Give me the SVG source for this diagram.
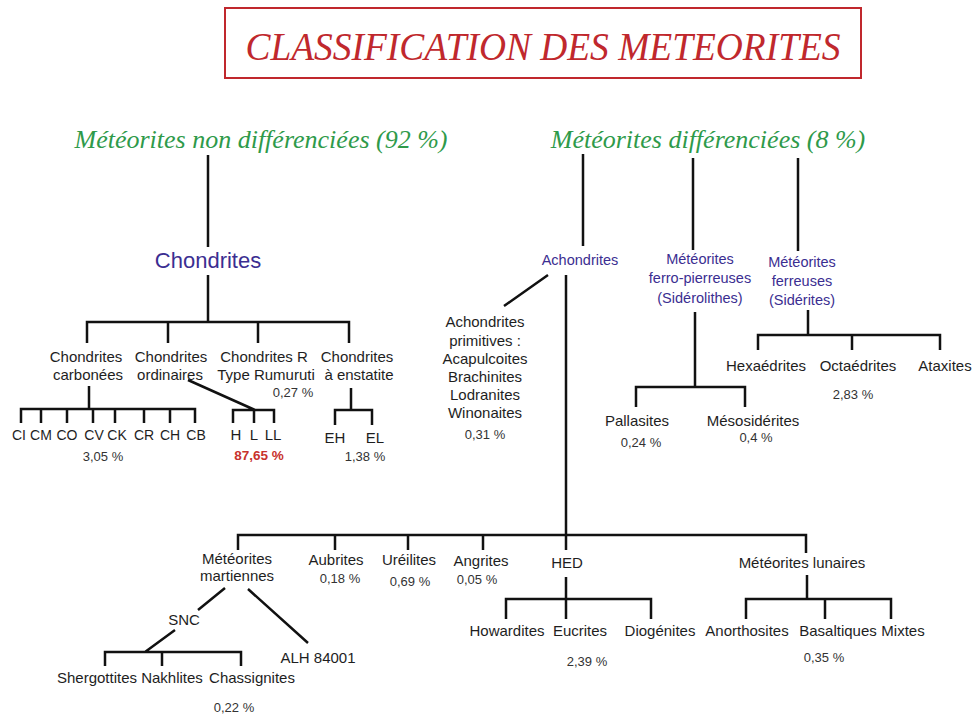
<svg xmlns="http://www.w3.org/2000/svg" width="973" height="716" viewBox="0 0 973 716">
<style>
.lbl{font-family:"Liberation Sans",Arial,sans-serif;font-size:15px;fill:#1e1e1e;text-anchor:middle}
.sm{font-size:14px}
.pct{font-family:"Liberation Sans",Arial,sans-serif;font-size:13px;fill:#333;text-anchor:middle}
.red{font-family:"Liberation Sans",Arial,sans-serif;font-size:13.5px;font-weight:bold;fill:#c8322c;text-anchor:middle}
.blue{font-family:"Liberation Sans",Arial,sans-serif;font-size:14.5px;fill:#3b2e91;text-anchor:middle}
.big{font-family:"Liberation Sans",Arial,sans-serif;font-size:22px;fill:#3b2e91;text-anchor:middle}
.green{font-family:"Liberation Serif","Times New Roman",serif;font-style:italic;font-size:26px;fill:#2e9a4a;text-anchor:middle}
.title{font-family:"Liberation Serif","Times New Roman",serif;font-style:italic;font-size:40px;fill:#c0282d;text-anchor:middle}
.ln{fill:none;stroke:#111;stroke-width:2.5;stroke-linejoin:miter}
</style>
<rect width="973" height="716" fill="#fff"/>
<g id="title">
<rect x="225" y="8" width="636" height="70" fill="none" stroke="#c0282d" stroke-width="2"/>
<text class="title" x="543" y="60" textLength="595" lengthAdjust="spacingAndGlyphs">CLASSIFICATION  DES  METEORITES</text>
</g>
<g id="connectors" class="ln">
<path class="ln" d="M208,155V247M208,275V322M87,343V322H349V343M168,322V343M258,322V343"/>
<path class="ln" d="M89,386V409M21,423V409H195V423M41,409V423M67,409V423M93,409V423M115,409V423M144,409V423M170,409V423"/>
<path class="ln" d="M188,380L255,410M233,423V410H274V423M254,410V423"/>
<path class="ln" d="M351,388V410M335,425V410H372V425"/>
<path class="ln" d="M583,154V246M693,158V250M798,158V251"/>
<path class="ln" d="M548,275L504,306M566,275V550"/>
<path class="ln" d="M695,312V387M636,407V387H745V407"/>
<path class="ln" d="M808,310V335M758,350V335H940V350M852,335V350"/>
<path class="ln" d="M238,550V535H806V553M335,535V550M408,535V550M483,535V550"/>
<path class="ln" d="M566,577V619M506,619V599H651V619"/>
<path class="ln" d="M807,575V599M746,619V599H891V619M825,599V619"/>
<path class="ln" d="M225,588L198,610M175,630L145,652M105,666V652H241V666M162,652V666M248,589L308,643"/>
</g>
<g id="n-nondiff"><text class="green" x="261" y="148">Météorites non différenciées (92 %)</text></g>
<g id="n-diff"><text class="green" x="708" y="148">Météorites différenciées (8 %)</text></g>
<g id="n-chondrites"><text class="big" x="208" y="268">Chondrites</text></g>
<g id="n-carbonees"><text class="lbl" x="86" y="362">Chondrites</text><text class="lbl" x="88" y="380">carbonées</text></g>
<g id="n-ordinaires"><text class="lbl" x="171" y="362">Chondrites</text><text class="lbl" x="170" y="380">ordinaires</text></g>
<g id="n-rumuruti"><text class="lbl" x="264" y="362">Chondrites R</text><text class="lbl" x="266" y="380">Type Rumuruti</text><text class="pct" x="293" y="397">0,27 %</text></g>
<g id="n-enstatite"><text class="lbl" x="357" y="362">Chondrites</text><text class="lbl" x="359" y="380">à enstatite</text></g>
<g id="n-carb-types">
<text class="lbl sm" x="19" y="440">CI</text><text class="lbl sm" x="41" y="440">CM</text><text class="lbl sm" x="67" y="440">CO</text><text class="lbl sm" x="94" y="440">CV</text><text class="lbl sm" x="117" y="440">CK</text><text class="lbl sm" x="144" y="440">CR</text><text class="lbl sm" x="170" y="440">CH</text><text class="lbl sm" x="196" y="440">CB</text>
<text class="pct" x="103" y="461">3,05 %</text>
</g>
<g id="n-ord-types">
<text class="lbl" x="236" y="440">H</text><text class="lbl" x="254" y="440">L</text><text class="lbl" x="273" y="440">LL</text>
<text class="red" x="259" y="460">87,65 %</text>
</g>
<g id="n-ens-types">
<text class="lbl" x="335" y="443">EH</text><text class="lbl" x="375" y="443">EL</text>
<text class="pct" x="365" y="461">1,38 %</text>
</g>
<g id="n-achondrites"><text class="blue" x="580" y="265">Achondrites</text></g>
<g id="n-ferropierreuses"><text class="blue" x="700" y="264">Météorites</text><text class="blue" x="700" y="283">ferro-pierreuses</text><text class="blue" x="700" y="303">(Sidérolithes)</text></g>
<g id="n-ferreuses"><text class="blue" x="802" y="267">Météorites</text><text class="blue" x="802" y="286">ferreuses</text><text class="blue" x="802" y="305">(Sidérites)</text></g>
<g id="n-primitives">
<text class="lbl" x="485" y="327">Achondrites</text><text class="lbl" x="485" y="346">primitives :</text><text class="lbl" x="485" y="364">Acapulcoites</text><text class="lbl" x="485" y="382">Brachinites</text><text class="lbl" x="485" y="400">Lodranites</text><text class="lbl" x="485" y="418">Winonaites</text>
<text class="pct" x="485" y="439">0,31 %</text>
</g>
<g id="n-pallasites"><text class="lbl" x="637" y="426">Pallasites</text><text class="pct" x="641" y="447">0,24 %</text></g>
<g id="n-mesosiderites"><text class="lbl" x="753" y="426">Mésosidérites</text><text class="pct" x="756" y="442">0,4 %</text></g>
<g id="n-hexaedrites"><text class="lbl" x="766" y="371">Hexaédrites</text></g>
<g id="n-octaedrites"><text class="lbl" x="858" y="371">Octaédrites</text><text class="pct" x="853" y="399">2,83 %</text></g>
<g id="n-ataxites"><text class="lbl" x="945" y="371">Ataxites</text></g>
<g id="n-martiennes"><text class="lbl" x="237" y="564">Météorites</text><text class="lbl" x="237" y="581">martiennes</text></g>
<g id="n-aubrites"><text class="lbl" x="336" y="565">Aubrites</text><text class="pct" x="340" y="583">0,18 %</text></g>
<g id="n-ureilites"><text class="lbl" x="409" y="565">Uréilites</text><text class="pct" x="410" y="586">0,69 %</text></g>
<g id="n-angrites"><text class="lbl" x="481" y="566">Angrites</text><text class="pct" x="477" y="584">0,05 %</text></g>
<g id="n-hed"><text class="lbl" x="567" y="568">HED</text></g>
<g id="n-lunaires"><text class="lbl" x="802" y="568">Météorites lunaires</text></g>
<g id="n-howardites"><text class="lbl" x="507" y="636">Howardites</text></g>
<g id="n-eucrites"><text class="lbl" x="580" y="636">Eucrites</text><text class="pct" x="587" y="666">2,39 %</text></g>
<g id="n-diogenites"><text class="lbl" x="660" y="636">Diogénites</text></g>
<g id="n-anorthosites"><text class="lbl" x="747" y="636">Anorthosites</text></g>
<g id="n-basaltiques"><text class="lbl" x="838" y="636">Basaltiques</text><text class="pct" x="824" y="662">0,35 %</text></g>
<g id="n-mixtes"><text class="lbl" x="903" y="636">Mixtes</text></g>
<g id="n-snc"><text class="lbl" x="184" y="625">SNC</text></g>
<g id="n-alh"><text class="lbl" x="318" y="663">ALH 84001</text></g>
<g id="n-shergottites"><text class="lbl" x="97" y="683">Shergottites</text></g>
<g id="n-nakhlites"><text class="lbl" x="172" y="683">Nakhlites</text><text class="pct" x="234" y="712">0,22 %</text></g>
<g id="n-chassignites"><text class="lbl" x="252" y="683">Chassignites</text></g>
</svg>
